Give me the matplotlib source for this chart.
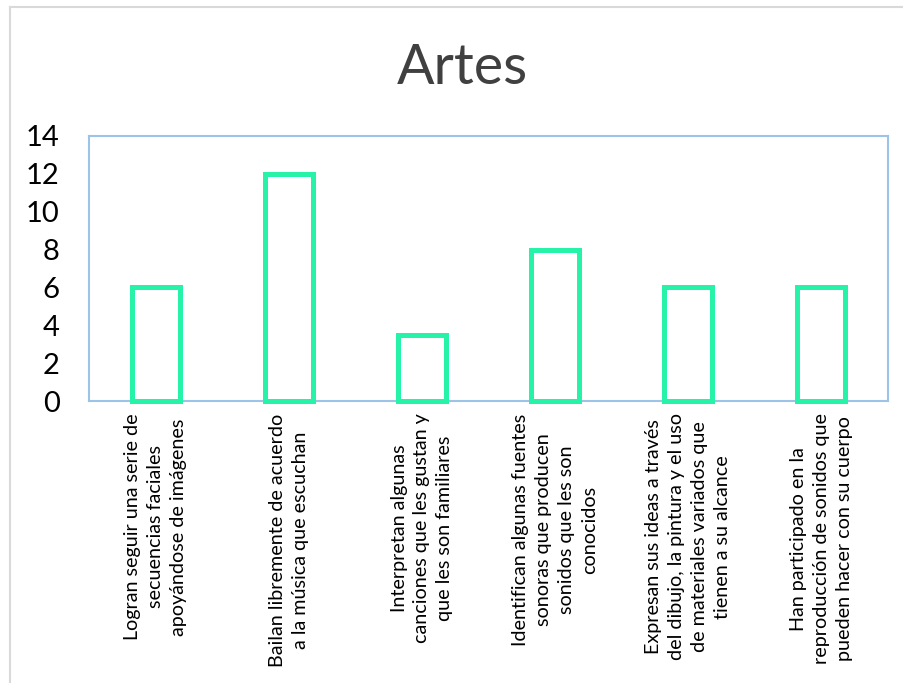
import matplotlib
matplotlib.use("Agg")
import matplotlib.pyplot as plt
from matplotlib.lines import Line2D

title = "Artes"
categories = [
    "Logran seguir una serie de\nsecuencias faciales\napoyándose de imágenes",
    "Bailan libremente de acuerdo\na la música que escuchan",
    "Interpretan algunas\ncanciones que les gustan y\nque les son familiares",
    "Identifican algunas fuentes\nsonoras que producen\nsonidos que les son\nconocidos",
    "Expresan sus ideas a través\ndel dibujo, la pintura y el uso\nde materiales variados que\ntienen a su alcance",
    "Han participado en la\nreproducción de sonidos que\npueden hacer con su cuerpo",
]
values = [6, 12, 3.5, 8, 6, 6]
yticks = [0, 2, 4, 6, 8, 10, 12, 14]

plt.rcParams['font.family'] = ['Lato', 'DejaVu Sans']

W, H = 904, 683
fig = plt.figure(figsize=(W / 100, H / 100), dpi=100)
fig.patch.set_facecolor("white")

# outer chart frame (partially visible)
fig.add_artist(Line2D([10 / W, 1], [1 - 7 / H, 1 - 7 / H], color="#D9D9D9", lw=1.5))
fig.add_artist(Line2D([10 / W, 10 / W], [0, 1 - 7 / H], color="#D9D9D9", lw=1.5))

ax = fig.add_axes([89 / W, 1 - 401 / H, (888 - 89) / W, (401 - 136) / H])
x = list(range(len(values)))
ax.bar(x, values, width=0.36, facecolor="white", edgecolor="#26F2A8",
       linewidth=3.6, zorder=3, clip_on=False)
ax.set_xlim(-0.5, len(values) - 0.5)
ax.set_ylim(0, 14)
ax.set_yticks(yticks)
ax.set_yticklabels([str(v) for v in yticks], fontsize=21)
ax.set_xticks(x)
ax.set_xticklabels(categories, rotation=90, fontsize=14.2, ha="center", va="top",
                   multialignment="center", linespacing=1.42)
ax.tick_params(axis="both", length=0)
ax.tick_params(axis="y", pad=21)
ax.tick_params(axis="x", pad=9)
for s in ax.spines.values():
    s.set_color("#9DC3E6")
    s.set_linewidth(1.5)

fig.text(462 / W, 1 - 68 / H, title, fontsize=40, ha="center", va="center", color="#404040")

fig.savefig("out.png", dpi=100)
